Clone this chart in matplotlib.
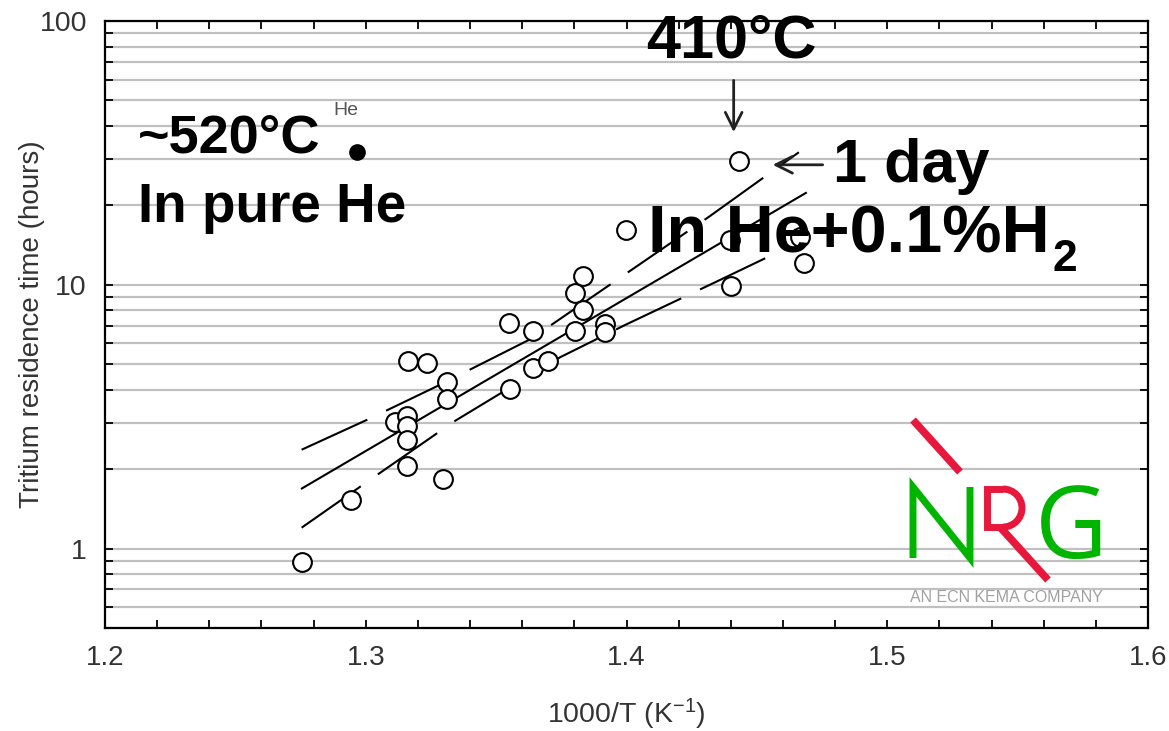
import matplotlib
matplotlib.use('Agg')
import matplotlib.pyplot as plt
from matplotlib.ticker import FixedLocator, FixedFormatter, LogLocator, MultipleLocator, NullFormatter, FormatStrFormatter
from matplotlib.patches import Arc

plt.rcParams['font.family'] = ['Liberation Sans', 'DejaVu Sans']
plt.rcParams['mathtext.fontset'] = 'custom'
plt.rcParams['mathtext.rm'] = 'Liberation Sans'
plt.rcParams['mathtext.it'] = 'Liberation Sans'
plt.rcParams['mathtext.bf'] = 'Liberation Sans:bold'
plt.rcParams['lines.scale_dashes'] = False

# ---------------- data ----------------
# open circles: He + 0.1% H2
inv_T_H2 = [1.2756, 1.2943, 1.3162, 1.3233, 1.3112, 1.3157, 1.3157, 1.3157, 1.3160,
            1.3297, 1.3310, 1.3310, 1.3549, 1.3643, 1.3553, 1.3643, 1.3698, 1.3802,
            1.3832, 1.3832, 1.3802, 1.3918, 1.3918, 1.3998, 1.4431, 1.4401, 1.4681,
            1.4397, 1.4665]
time_H2 = [0.89, 1.53, 5.12, 5.05, 3.01, 3.17, 2.91, 2.57, 2.06,
           1.83, 4.27, 3.69, 7.16, 6.70, 4.02, 4.84, 5.15, 9.31,
           10.8, 8.04, 6.70, 7.11, 6.64, 16.1, 29.5, 9.9, 12.1,
           14.8, 15.2]
# filled circle: pure He
inv_T_He = [1.2966]
time_He = [31.8]
# regression line
fit_x = [1.2755, 1.4688]
fit_y = [1.69, 22.3]
# confidence band (upper / lower)
upper_x = [1.2754, 1.3012, 1.3272, 1.3634, 1.3997, 1.4316, 1.4661]
upper_y = [2.37, 3.10, 4.12, 6.24, 11.0, 18.1, 31.8]
lower_x = [1.2754, 1.3012, 1.3338, 1.3745, 1.3997, 1.4338, 1.4615]
lower_y = [1.20, 1.81, 3.03, 5.31, 7.06, 10.2, 13.8]

x_ticks = [1.2, 1.3, 1.4, 1.5, 1.6]
y_ticks = [1, 10, 100]
y_ticklabels = ['1', '10', '100']

# ---------------- figure ----------------
W, H = 1169, 731
fig = plt.figure(figsize=(W / 100, H / 100), dpi=100)
ax = fig.add_axes([105 / W, 1 - 628 / H, (1148 - 105) / W, (628 - 21) / H])

ax.set_yscale('log')
ax.set_xlim(1.2, 1.6)
ax.set_ylim(0.5, 100)

ax.xaxis.set_major_locator(FixedLocator(x_ticks))
ax.xaxis.set_major_formatter(FormatStrFormatter('%.1f'))
ax.xaxis.set_minor_locator(MultipleLocator(0.02))
ax.yaxis.set_major_locator(FixedLocator(y_ticks))
ax.yaxis.set_major_formatter(FixedFormatter(y_ticklabels))
ax.yaxis.set_minor_locator(LogLocator(base=10, subs=range(2, 10)))
ax.yaxis.set_minor_formatter(NullFormatter())

ax.grid(True, which='both', axis='y', color='#c0c0c0', lw=1.6)
ax.set_axisbelow(True)
ax.tick_params(which='both', direction='in', top=True, right=True,
               length=6, width=1.3, color='black')
ax.tick_params(axis='x', which='major', labelsize=20, pad=12, labelcolor='#333333')
ax.tick_params(axis='y', which='major', labelsize=20.5, pad=13, labelcolor='#333333')
for s in ax.spines.values():
    s.set_linewidth(1.6)

ax.set_xlabel('1000/T (K$^{-1}$)', fontsize=20.5, color='#333333')
ax.xaxis.set_label_coords(0.5, -0.114)
ax.set_ylabel('Tritium residence time (hours)', fontsize=20, color='#333333')
ax.yaxis.set_label_coords(-0.058, 0.5)

# lines
ax.plot(fit_x, fit_y, color='black', lw=1.5, zorder=3)
ax.plot(upper_x, upper_y, color='black', lw=1.5, dashes=(52, 15), zorder=3)
ax.plot(lower_x, lower_y, color='black', lw=1.5, dashes=(52, 15), zorder=3)

# points
ax.plot(inv_T_H2, time_H2, 'o', ms=13.5, mfc='white', mec='black', mew=1.5,
        linestyle='none', zorder=4)
ax.plot(inv_T_He, time_He, 'o', ms=11, mfc='black', mec='black',
        linestyle='none', zorder=4)

# annotations
ax.text(1.2127, 31.6, '~520°C', fontsize=39, fontweight='bold', va='baseline', zorder=6)
ax.text(1.2874, 44.2, 'He', fontsize=14, color='#555555', va='baseline', zorder=6)
ax.text(1.2127, 17.3, 'In pure He', fontsize=39.5, fontweight='bold', va='baseline', zorder=6)
ax.text(1.4075, 72.5, '410°C', fontsize=44, fontweight='bold', va='baseline', zorder=6)
ax.annotate('', xy=(1.4411, 37.0), xytext=(1.4411, 61.0),
            arrowprops=dict(arrowstyle='->', lw=2, color='#222222',
                            mutation_scale=30), zorder=6)
ax.text(1.4792, 24.6, '1 day', fontsize=44, fontweight='bold', va='baseline', zorder=6)
ax.annotate('', xy=(1.4550, 28.5), xytext=(1.4763, 28.5),
            arrowprops=dict(arrowstyle='->', lw=2, color='#222222',
                            mutation_scale=30), zorder=6)
t = ax.text(1.4083, 13.2, 'In He+0.1%H', fontsize=48, fontweight='bold',
            va='baseline', zorder=6)
ax.annotate('2', xy=(1.0, 0.0), xycoords=t, xytext=(2, -3),
            textcoords='offset points', fontsize=32, fontweight='bold',
            va='baseline', ha='left', zorder=6)

# ---------------- NRG logo (overlay in pixel coordinates) ----------------
ov = fig.add_axes([0, 0, 1, 1], facecolor='none')
ov.set_xlim(0, W)
ov.set_ylim(H, 0)
ov.axis('off')
green = '#00b400'
red = '#e8183c'
ov.plot([913, 960], [420, 472], color=red, lw=5.5, solid_capstyle='butt')
ov.plot([913, 913, 970, 970], [558, 487, 558, 487], color=green, lw=5,
        solid_capstyle='butt', solid_joinstyle='miter')
ov.plot([1003, 987, 987, 1003], [489, 489, 527, 527], color=red, lw=5,
        solid_capstyle='butt', solid_joinstyle='miter')
ov.add_patch(Arc((1003, 508), 38, 38, theta1=-90, theta2=90, color=red, lw=5))
ov.plot([1000, 1048], [527, 580], color=red, lw=5.5, solid_capstyle='butt')
ov.text(1035, 558, 'G', fontsize=72, color=green, family=['Open Sans', 'DejaVu Sans'],
        va='baseline', ha='left')
ov.text(910, 602, 'AN ECN KEMA COMPANY', fontsize=11.5, color='#a0a0a0',
        va='baseline', ha='left')

fig.savefig('out.png', dpi=100)
